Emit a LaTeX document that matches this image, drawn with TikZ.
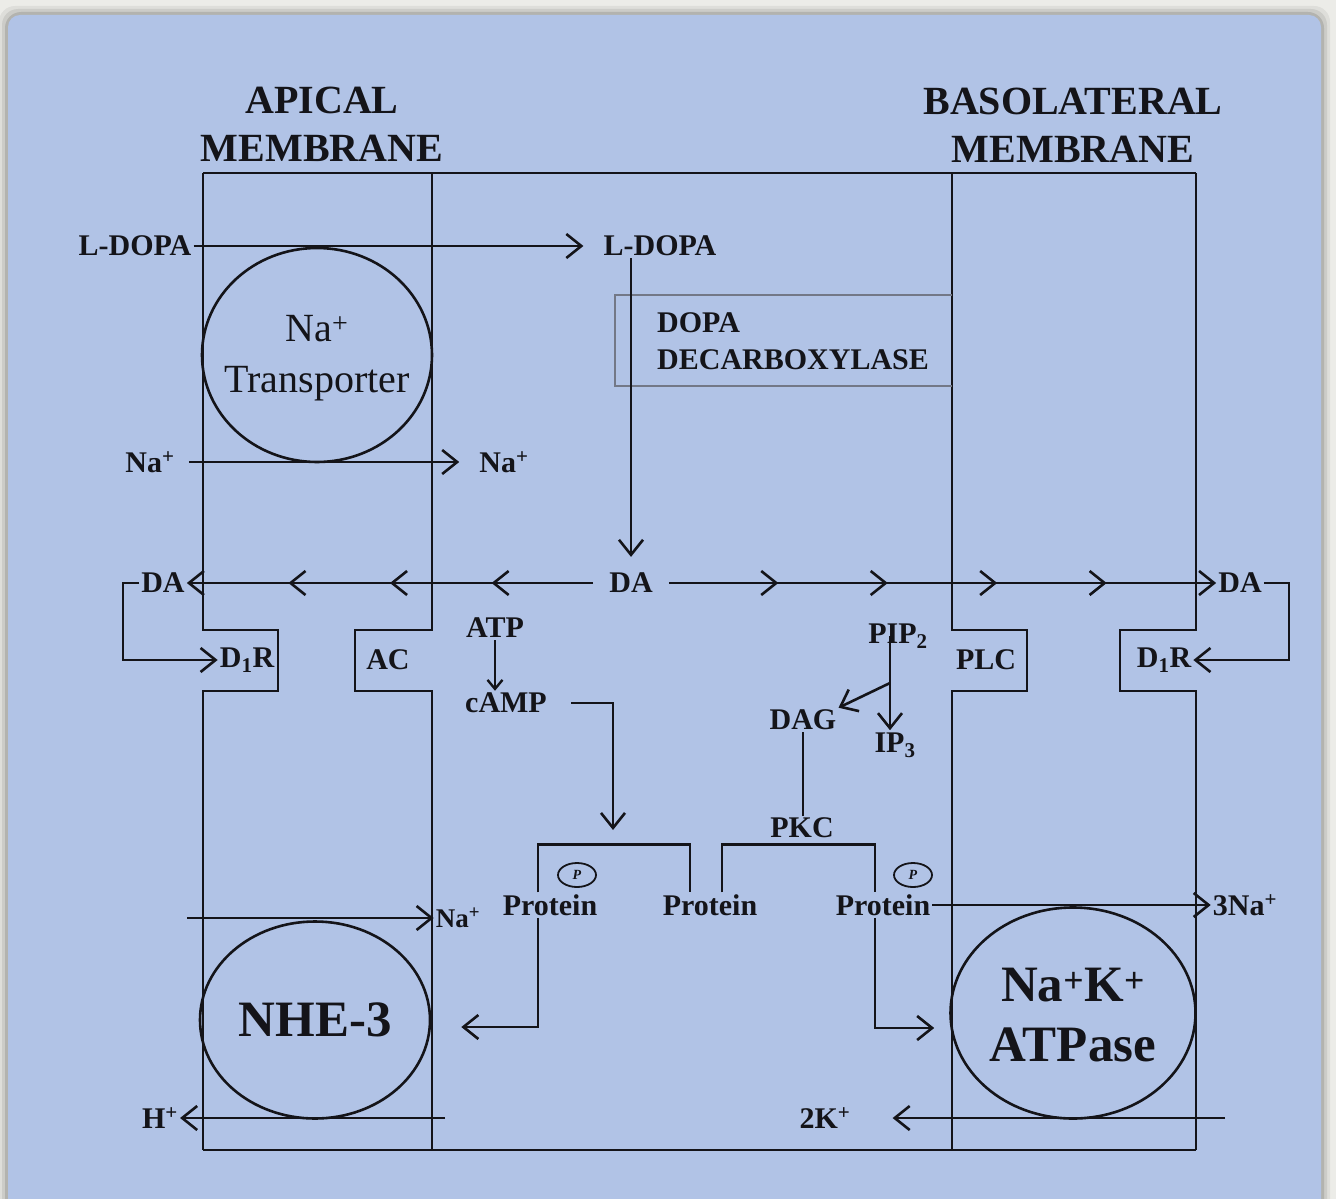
\documentclass[tikz,border=0pt]{standalone}
\usepackage{fontspec}
\setmainfont{Liberation Serif}
\usepackage{tikz}
\usetikzlibrary{arrows.meta,positioning,shapes.geometric,decorations.markings,calc}
\definecolor{cellblue}{RGB}{177,195,230}
\definecolor{framegray}{RGB}{236,236,232}
\definecolor{inkblack}{RGB}{20,20,25}
\definecolor{ddcgray}{RGB}{115,120,135}
\newcommand{\Nap}{Na\textsuperscript{+}}

\begin{document}
\begin{tikzpicture}[x=1pt, y=-1pt,
        >={Straight Barb[length=15pt,width=24pt]},
        lbl/.style={font=\fontsize{30}{34}\selectfont\bfseries, inner sep=2pt, text=inkblack},
        head/.style={font=\fontsize{40}{48}\selectfont\bfseries, align=center, text=inkblack},
        pump/.style={ellipse, draw=inkblack, line width=2.6pt, inner sep=0pt},
        arr/.style={->, line width=2.6pt, draw=inkblack},
        sarr/.style={-{Straight Barb[length=9pt,width=15pt]}, line width=2.4pt, draw=inkblack},
        link/.style={line width=2.6pt, draw=inkblack},
        mem/.style={line width=2.6pt, draw=inkblack},
        phos/.style={ellipse, draw=inkblack, line width=1.8pt, minimum width=38pt,
                     minimum height=24pt, inner sep=0pt, text=inkblack,
                     font=\fontsize{14}{14}\selectfont\bfseries\itshape},
        midtips/.style={postaction={decorate},
                        decoration={markings, mark=between positions #1 with {\arrow{>}}}}
    ]
    \useasboundingbox (0,0) rectangle (1336,1199);

    % frame and cell background
    \fill[framegray] (0,0) rectangle (1336,1199);
    \foreach \d/\op in {9/0.06,6/0.08,3/0.12}
        \fill[black, opacity=\op, rounded corners=16] (8-\d,15-\d) rectangle (1321+\d,1215);
    \fill[cellblue, rounded corners=12] (8,15) rectangle (1321,1215);

    % membranes
    \draw[mem] (203,173) -- (1196,173);
    \draw[mem] (203,1150) -- (1196,1150);
    \foreach \xm/\xn in {203/278, 432/355, 952/1027, 1196/1120}
        \draw[mem] (\xm,173) -- (\xm,630) -- (\xn,630) -- (\xn,691) -- (\xm,691) -- (\xm,1150);
    \draw[ddcgray, line width=1.2pt] (952,295) -| (615,386) -- (952,386);

    \node[head] (apical) at (322,124) {APICAL\\MEMBRANE};
    \node[head] (baso) at (1073,125) {BASOLATERAL\\MEMBRANE};

    % apical side
    \node[lbl] (ldopaL) at (135,246) {L-DOPA};
    \node[lbl] (ldopaR) at (660,246) {L-DOPA};
    \node[lbl, font=\fontsize{30}{37}\selectfont\bfseries, align=left, anchor=west] (ddc) at (655,341)
      {DOPA\\DECARBOXYLASE};
    \node[pump, minimum width=230pt, minimum height=214pt] (natr) at (317,355) {};
    \node[font=\fontsize{40}{51}\selectfont, align=center, text=inkblack] (natrtxt) at (317,358)
      {\Nap\\Transporter};
    \node[lbl] (naL) at (150,462) {\Nap};
    \node[lbl] (naR) at (504,462) {\Nap};

    \node[lbl, inner xsep=16pt] (daM) at (631,583) {DA};
    \node[lbl] (daL) at (163,583) {DA};
    \node[lbl] (daR) at (1240,583) {DA};
    \node[lbl] (d1rL) at (247,660) {D\textsubscript{1}R};
    \node[lbl] (d1rR) at (1164,660) {D\textsubscript{1}R};
    \node[lbl] (ac) at (388,660) {AC};
    \node[lbl] (plc) at (986,660) {PLC};

    % second messengers
    \node[lbl] (atp) at (495,628) {ATP};
    \node[lbl] (camp) at (506,703) {cAMP};
    \node[lbl] (pip) at (898,636) {PIP\textsubscript{2}};
    \node[lbl] (dag) at (803,720) {DAG};
    \node[lbl] (ip) at (895,745) {IP\textsubscript{3}};
    \node[lbl] (pkc) at (802,828) {PKC};
    \coordinate (split) at (890,683);
    \coordinate (pka) at (613,830);

    \node[lbl] (protA) at (550,905) {Protein};
    \node[lbl] (protB) at (710,905) {Protein};
    \node[lbl] (protC) at (883,905) {Protein};
    \node[phos] (phA) at (577,875) {P};
    \node[phos] (phC) at (913,875) {P};

    % pumps
    \node[lbl, font=\fontsize{27}{28}\selectfont\bfseries] (naN) at (458,918) {\Nap};
    \node[pump, minimum width=230pt, minimum height=197pt] (nhe) at (315,1020) {};
    \node[font=\fontsize{51}{56}\selectfont\bfseries, text=inkblack] (nhetxt) at (315,1020) {NHE-3};
    \node[pump, minimum width=245pt, minimum height=211pt] (nka) at (1073,1013) {};
    \node[font=\fontsize{51}{60}\selectfont\bfseries, align=center, text=inkblack] (nkatxt) at (1073,1015)
      {Na\textsuperscript{+}K\textsuperscript{+}\\ATPase};
    \node[lbl] (na3) at (1245,905) {3\Nap};
    \node[lbl] (hp) at (160,1118) {H\textsuperscript{+}};
    \node[lbl] (k2) at (825,1118) {2K\textsuperscript{+}};
    \coordinate (naIn) at (187,918);
    \coordinate (hOut) at (445,1118);
    \coordinate (kIn) at (1225,1118);

    % connectors
    \draw[arr, shorten >=18pt] (ldopaL) -- (ldopaR);
    \draw[arr, shorten >=14pt] (ldopaR.south -| daM) -- (daM);
    \draw[arr, shorten <=12pt, shorten >=18pt] (naL) -- (naR);
    \draw[arr, midtips=0.25 and 0.8 step 0.25] (daM) -- (daL);
    \draw[arr, midtips=0.2 and 0.85 step 0.2] (daM) -- (daR);
    \draw[arr] (daL.west) -- ++(-16,0) |- (d1rL);
    \draw[arr] (daR.east) -- ++(25,0) |- (d1rR);
    \draw[sarr] (atp) -- (atp |- camp.north);
    \draw[arr, shorten <=22pt] (camp) -| (pka);
    \draw[arr] (pip.center -| split) -- (split |- ip.north);
    \draw[arr] (split) -- (dag.north east);
    \draw[link] (dag) -- (dag |- pkc.north);
    \draw[link] ([xshift=-12pt]protA.north) -- ++(0,-48) -| ([xshift=-20pt]protB.north);
    \draw[link] ([xshift=12pt]protB.north) -- ++(0,-48) -| ([xshift=-8pt]protC.north);
    \draw[arr, shorten >=30pt] ([xshift=-12pt]protA.south) |- ([yshift=-7pt]nhe.east);
    \draw[arr, shorten >=15pt] ([xshift=-8pt]protC.south) |- ([yshift=-15pt]nka.west);
    \draw[arr] (protC) -- (na3);
    \draw[arr] (naIn) -- (naN);
    \draw[arr] (hOut) -- (hp);
    \draw[arr, shorten >=40pt] (kIn) -- (k2);
\end{tikzpicture}
\end{document}
